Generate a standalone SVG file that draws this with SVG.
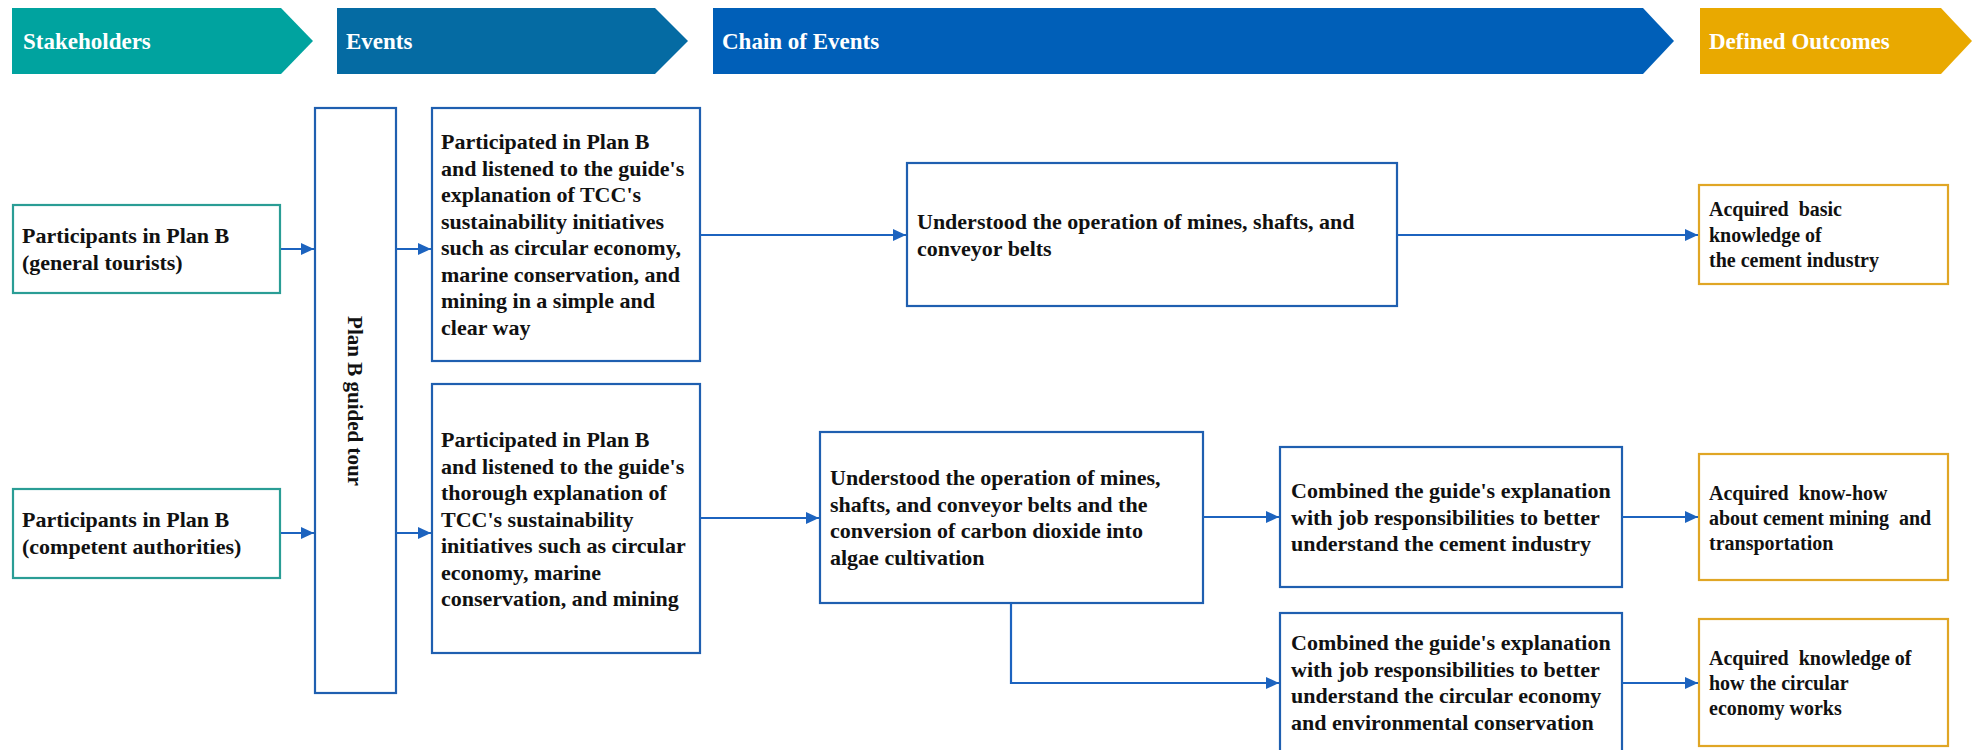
<svg xmlns="http://www.w3.org/2000/svg" width="1975" height="750" viewBox="0 0 1975 750">
  <style>
    text { font-family: "Liberation Serif", "Times New Roman", serif; font-weight: bold; fill: #111; }
    .hdr { font-size: 23px; fill: #fff; }
    .t22 { font-size: 22px; }
    .t20 { font-size: 20px; white-space: pre; }
    .box { fill: #fff; stroke: #1f5fb0; stroke-width: 2.2; }
    .stk { fill: #fff; stroke: #2a9d95; stroke-width: 2.2; }
    .out { fill: #fff; stroke: #e0a625; stroke-width: 2.2; }
    .conn { fill: none; stroke: #1c63bf; stroke-width: 2.2; marker-end: url(#arrow); }
  </style>
  <defs>
    <marker id="arrow" markerUnits="userSpaceOnUse" markerWidth="13" markerHeight="12" refX="13" refY="6" orient="auto">
      <path d="M0,0 L13,6 L0,12 z" fill="#1c63bf"/>
    </marker>
  </defs>
  <rect width="1975" height="750" fill="#fff"/>

  <!-- column headers -->
  <g id="hdr-stakeholders">
    <polygon points="12,8 281,8 313,41 281,74 12,74" fill="#00a39f"/>
    <text class="hdr" x="23" y="49">Stakeholders</text>
  </g>
  <g id="hdr-events">
    <polygon points="337,8 655,8 688,41 655,74 337,74" fill="#056ba3"/>
    <text class="hdr" x="346" y="49">Events</text>
  </g>
  <g id="hdr-chain">
    <polygon points="713,8 1643,8 1674,41 1643,74 713,74" fill="#005fb8"/>
    <text class="hdr" x="722" y="49">Chain of Events</text>
  </g>
  <g id="hdr-outcomes">
    <polygon points="1700,8 1941,8 1972,41 1941,74 1700,74" fill="#e9a900"/>
    <text class="hdr" x="1709" y="49">Defined Outcomes</text>
  </g>

  <!-- stakeholders -->
  <g id="stakeholder-tourists">
    <rect class="stk" x="13" y="205" width="267" height="88"/>
    <text class="t22" x="22"><tspan x="22" y="243">Participants in Plan B</tspan><tspan x="22" y="269.5">(general tourists)</tspan></text>
  </g>
  <g id="stakeholder-authorities">
    <rect class="stk" x="13" y="489" width="267" height="89"/>
    <text class="t22" x="22"><tspan x="22" y="527">Participants in Plan B</tspan><tspan x="22" y="553.5">(competent authorities)</tspan></text>
  </g>

  <!-- guided tour -->
  <g id="guided-tour">
    <rect class="box" x="315" y="108" width="81" height="585"/>
    <text class="t22" style="font-size:21px" text-anchor="middle" dominant-baseline="central" transform="translate(355,401) rotate(90)">Plan B guided tour</text>
  </g>

  <!-- events -->
  <g id="event-simple">
    <rect class="box" x="432" y="108" width="268" height="253"/>
    <text class="t22">
      <tspan x="441" y="149">Participated in Plan B</tspan>
      <tspan x="441" y="175.5">and listened to the guide's</tspan>
      <tspan x="441" y="202">explanation of TCC's</tspan>
      <tspan x="441" y="228.5">sustainability initiatives</tspan>
      <tspan x="441" y="255">such as circular economy,</tspan>
      <tspan x="441" y="281.5">marine conservation, and</tspan>
      <tspan x="441" y="308">mining in a simple and</tspan>
      <tspan x="441" y="334.5">clear way</tspan>
    </text>
  </g>
  <g id="event-thorough">
    <rect class="box" x="432" y="384" width="268" height="269"/>
    <text class="t22">
      <tspan x="441" y="447">Participated in Plan B</tspan>
      <tspan x="441" y="473.5">and listened to the guide's</tspan>
      <tspan x="441" y="500">thorough explanation of</tspan>
      <tspan x="441" y="526.5">TCC's sustainability</tspan>
      <tspan x="441" y="553">initiatives such as circular</tspan>
      <tspan x="441" y="579.5">economy, marine</tspan>
      <tspan x="441" y="606">conservation, and mining</tspan>
    </text>
  </g>

  <!-- chain of events -->
  <g id="chain-mines">
    <rect class="box" x="907" y="163" width="490" height="143"/>
    <text class="t22">
      <tspan x="917" y="229">Understood the operation of mines, shafts, and</tspan>
      <tspan x="917" y="255.5">conveyor belts</tspan>
    </text>
  </g>
  <g id="chain-mines-algae">
    <rect class="box" x="820" y="432" width="383" height="171"/>
    <text class="t22">
      <tspan x="830" y="485">Understood the operation of mines,</tspan>
      <tspan x="830" y="511.5">shafts, and conveyor belts and the</tspan>
      <tspan x="830" y="538">conversion of carbon dioxide into</tspan>
      <tspan x="830" y="564.5">algae cultivation</tspan>
    </text>
  </g>
  <g id="chain-cement">
    <rect class="box" x="1280" y="447" width="342" height="140"/>
    <text class="t22">
      <tspan x="1291" y="498">Combined the guide's explanation</tspan>
      <tspan x="1291" y="524.5">with job responsibilities to better</tspan>
      <tspan x="1291" y="551">understand the cement industry</tspan>
    </text>
  </g>
  <g id="chain-circular">
    <rect class="box" x="1280" y="613" width="342" height="145"/>
    <text class="t22">
      <tspan x="1291" y="650">Combined the guide's explanation</tspan>
      <tspan x="1291" y="676.5">with job responsibilities to better</tspan>
      <tspan x="1291" y="703">understand the circular economy</tspan>
      <tspan x="1291" y="729.5">and environmental conservation</tspan>
    </text>
  </g>

  <!-- defined outcomes -->
  <g id="outcome-basic">
    <rect class="out" x="1699" y="185" width="249" height="99"/>
    <text class="t20">
      <tspan x="1709" y="216">Acquired  basic</tspan>
      <tspan x="1709" y="241.5">knowledge of</tspan>
      <tspan x="1709" y="267">the cement industry</tspan>
    </text>
  </g>
  <g id="outcome-knowhow">
    <rect class="out" x="1699" y="454" width="249" height="126"/>
    <text class="t20">
      <tspan x="1709" y="500">Acquired  know-how</tspan>
      <tspan x="1709" y="525">about cement mining  and</tspan>
      <tspan x="1709" y="550">transportation</tspan>
    </text>
  </g>
  <g id="outcome-circular">
    <rect class="out" x="1699" y="619" width="249" height="127"/>
    <text class="t20">
      <tspan x="1709" y="665">Acquired  knowledge of</tspan>
      <tspan x="1709" y="690">how the circular</tspan>
      <tspan x="1709" y="715">economy works</tspan>
    </text>
  </g>

  <!-- connectors -->
  <g id="connectors">
    <path class="conn" d="M281,249 H314"/>
    <path class="conn" d="M281,533 H314"/>
    <path class="conn" d="M396,249 H431"/>
    <path class="conn" d="M396,533 H431"/>
    <path class="conn" d="M700,235 H906"/>
    <path class="conn" d="M1397,235 H1698"/>
    <path class="conn" d="M700,518 H819"/>
    <path class="conn" d="M1203,517 H1279"/>
    <path class="conn" d="M1011,603 V683 H1279"/>
    <path class="conn" d="M1622,517 H1698"/>
    <path class="conn" d="M1622,683 H1698"/>
  </g>
</svg>
